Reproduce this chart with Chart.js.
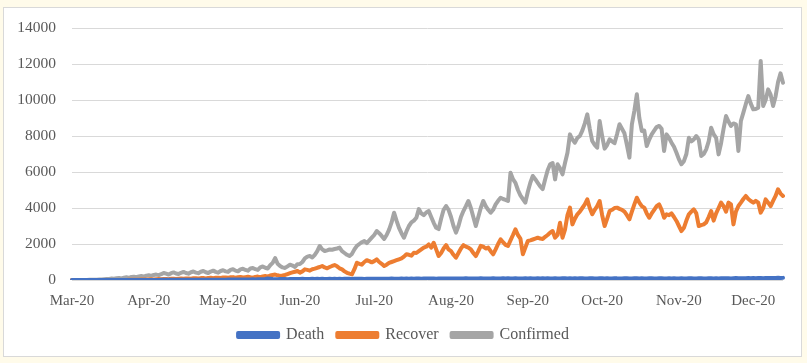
<!DOCTYPE html>
<html><head><meta charset="utf-8">
<script src="https://cdn.jsdelivr.net/npm/chart.js@4.4.0/dist/chart.umd.min.js"></script>
<style>
html,body{margin:0;padding:0;background:#fffbea;overflow:hidden;}
#box{position:absolute;left:3px;top:7px;width:797px;height:348px;border:1px solid #d9d9d9;background:#fff;}
#wrap{position:absolute;left:0;top:0;width:807px;height:363px;}
</style></head><body>
<div id="box"></div>
<div id="wrap"><canvas id="c" width="807" height="363"></canvas></div>
<script>
// Tick labels of the x axis and the day index (from 1 Mar 2020) where each month starts
const monthLabels = ['Mar-20','Apr-20','May-20','Jun-20','Jul-20','Aug-20','Sep-20','Oct-20','Nov-20','Dec-20'];
const monthStartDay = [0,31,61,92,122,153,184,214,245,275];
const yTicks = [0,2000,4000,6000,8000,10000,12000,14000];
const seriesNames = ['Death','Recover','Confirmed'];

// Daily values, 1 Mar 2020 - 13 Dec 2020 (one line per month)
const death = [
0,0,0,0,0,0,0,0,0,0,0,0,0,0,0,0,1,0,1,1,2,1,2,2,2,2,3,3,3,3,4,
4,5,5,6,6,7,7,8,7,8,9,8,10,9,11,10,12,11,12,12,14,13,15,14,16,15,17,16,19,17,
20,18,22,21,25,23,28,25,30,28,32,30,35,32,38,35,40,55,80,70,50,45,48,52,50,55,48,52,55,50,58,
60,65,60,62,55,68,60,65,58,70,62,60,68,55,65,60,70,62,68,65,72,60,70,68,65,72,62,70,75,68,
70,72,65,75,68,72,70,78,65,75,72,80,70,78,75,82,72,80,85,75,82,78,85,80,88,75,85,82,90,80,85,
82,88,80,90,85,82,92,85,88,80,90,85,92,82,88,90,85,95,82,90,88,92,85,95,90,82,92,88,85,90,95,
88,92,85,90,95,88,92,85,98,90,88,95,90,85,92,98,88,92,90,95,85,92,98,90,88,95,92,85,90,98,
92,88,95,90,85,98,92,90,88,95,92,85,90,98,92,88,95,90,85,92,98,90,88,95,92,85,90,95,88,92,90,
88,95,90,85,92,98,90,88,95,92,85,90,98,92,88,95,90,98,92,100,95,90,98,105,95,100,98,92,105,100,
108,98,105,115,100,110,118,108,105,115,122,110,118
];
const recover = [
0,0,0,0,0,0,0,0,0,0,0,0,0,0,0,0,0,0,0,0,0,0,5,10,8,15,20,12,25,30,22,
35,40,30,45,50,40,55,60,48,65,70,55,75,80,65,85,90,70,95,100,85,105,110,90,115,120,100,125,130,110,
135,140,120,150,160,130,150,170,140,160,180,150,130,170,190,160,200,220,190,250,280,300,260,230,250,280,330,380,420,460,500,
410,480,590,560,520,600,630,680,720,780,700,650,720,780,830,760,650,590,480,400,350,310,600,960,900,850,1000,1100,1050,980,
1050,1150,1000,900,780,850,950,1000,1050,1100,1150,1200,1300,1430,1400,1350,1520,1500,1600,1700,1800,1850,1980,1800,2070,1700,1330,1500,1750,1940,1700,
1600,1400,1240,1500,1750,1940,1850,1800,1700,1500,1330,1600,1900,1850,1750,1800,1600,1430,1700,2000,2260,2100,1950,1890,2200,2500,2820,2500,2300,1430,1800,
2170,2200,2250,2300,2350,2300,2280,2400,2500,2630,2720,2350,2500,3180,2350,2800,3600,4020,3090,3400,3650,3800,4000,4200,4480,4000,3650,3900,4100,4390,
3600,3000,3400,3830,3900,4000,4020,3950,3900,3800,3600,3370,3800,4200,4570,4300,4100,4020,3700,3460,3700,3900,4100,4200,3900,3460,3650,3600,3700,3500,3280,
3000,2720,2900,3300,3650,3800,3930,3700,3000,3050,3090,3200,3500,3830,3300,3700,4000,4300,4100,3800,4300,4200,3090,3800,4110,4300,4500,4670,4500,4390,
4300,4400,4300,3740,4000,4480,4300,4110,4400,4670,5040,4800,4670
];
const confirmed = [
0,0,0,1,2,3,5,8,10,15,20,25,30,40,50,60,80,70,100,110,90,130,150,120,170,180,160,200,220,190,240,
260,230,280,300,270,320,390,350,300,380,420,360,330,400,450,390,350,430,470,410,380,460,500,430,390,470,520,450,410,500,
540,480,450,560,600,520,480,590,630,560,520,640,670,600,560,700,750,680,640,820,950,1220,900,780,700,670,760,850,800,720,880,
890,1000,1200,1300,1330,1250,1400,1600,1890,1700,1610,1650,1700,1680,1720,1750,1800,1600,1500,1400,1330,1450,1700,1900,2000,2100,2170,2050,2200,2350,
2500,2720,2600,2450,2280,2500,2800,3200,3740,3300,2900,2600,2350,2700,3000,3200,3300,3460,3940,3700,3600,3750,3830,3500,3180,2900,2830,3400,3900,4110,3900,
3500,3000,2630,3000,3500,3830,4100,4390,4000,3500,3000,3500,4000,4390,4100,3900,3740,3900,4200,4400,4570,4500,4450,4390,5960,5600,5400,5000,4700,4500,4300,
4900,5400,5780,5600,5400,5200,5050,5600,6100,6430,6500,5590,6430,6200,5870,6500,7070,8090,7800,7630,7900,8000,8300,8700,9200,8400,7720,7500,7350,8830,
8000,7300,7500,7810,7700,7600,8100,8650,8400,8150,7500,6800,8650,9400,10320,9000,8280,8300,7440,7800,8090,8300,8500,8560,8400,7170,8090,7900,7630,7400,7070,
6700,6430,6600,7000,7900,7700,7810,8000,7800,6890,7000,7260,7700,8460,8100,7900,6980,7600,8400,9110,8800,8560,8700,8650,7170,8830,9300,9780,10220,9800,
9480,9500,9570,12170,9670,10000,10590,10300,9670,10200,11000,11480,10960
];

const dayLabels = confirmed.map((_, i) => i);
const FONT = '"Liberation Serif", "Times New Roman", serif';

// shift the bottom legend so it is centred on the whole canvas
const legendCentre = {
  id: 'legendCentre',
  afterLayout(chart) {
    const lg = chart.legend;
    if (!lg) return;
    const dx = (chart.width - (lg.left + lg.right)) / 2;
    lg.left += dx; lg.right += dx;
  }
};

new Chart(document.getElementById('c'), {
  type: 'line',
  data: {
    labels: dayLabels,
    datasets: [
      {label: seriesNames[0], data: death, borderColor: '#4472C4', backgroundColor: '#4472C4'},
      {label: seriesNames[1], data: recover, borderColor: '#ED7D31', backgroundColor: '#ED7D31'},
      {label: seriesNames[2], data: confirmed, borderColor: '#A5A5A5', backgroundColor: '#A5A5A5'}
    ]
  },
  plugins: [legendCentre],
  options: {
    responsive: false,
    animation: false,
    devicePixelRatio: 1,
    layout: {padding: {left: 0, right: 24, top: 28, bottom: 10}},
    elements: {
      point: {radius: 0},
      line: {borderWidth: 4, tension: 0, borderJoinStyle: 'round', borderCapStyle: 'round'}
    },
    scales: {
      x: {
        type: 'category',
        offset: false,
        grid: {display: false},
        border: {display: false},
        ticks: {
          autoSkip: false, maxRotation: 0, minRotation: 0, padding: 4,
          color: '#595959', font: {family: FONT, size: 15},
          callback: function(v, i) {
            const k = monthStartDay.indexOf(i);
            return k >= 0 ? monthLabels[k] : '';
          }
        }
      },
      y: {
        min: yTicks[0], max: yTicks[yTicks.length - 1],
        afterBuildTicks: s => { s.ticks = yTicks.map(v => ({value: v})); },
        afterFit: s => { s.width = 72; },
        grid: {color: '#D9D9D9', lineWidth: 1, drawTicks: false},
        border: {display: false},
        ticks: {padding: 16, color: '#595959', font: {family: FONT, size: 15.5},
          callback: v => String(v)}
      }
    },
    plugins: {
      tooltip: {enabled: false},
      legend: {
        position: 'bottom',
        labels: {
          boxWidth: 40, boxHeight: 4, padding: 13,
          color: '#595959', font: {family: FONT, size: 16}
        }
      }
    }
  }
});
</script>
</body></html>
